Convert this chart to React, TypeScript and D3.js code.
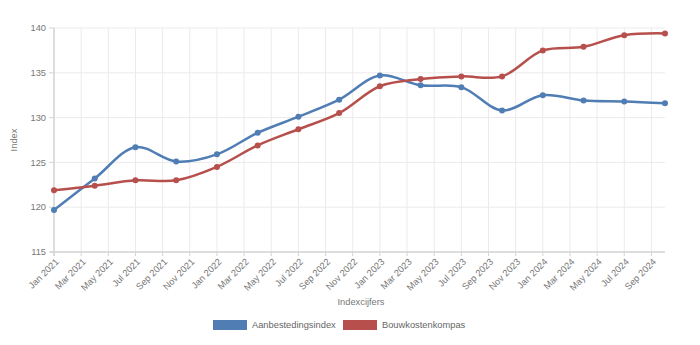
import React from "react";
import * as d3 from "d3";

const monthNames = ["Jan", "Feb", "Mar", "Apr", "May", "Jun", "Jul", "Aug", "Sep", "Oct", "Nov", "Dec"];
// month index (0 = Jan 2021) for each quarterly observation
const pointMonths = [0, 3, 6, 9, 12, 15, 18, 21, 24, 27, 30, 33, 36, 39, 42, 45];
const aanbestedingsindex = [119.7, 123.2, 126.7, 125.1, 125.9, 128.3, 130.1, 132.0, 134.7, 133.6, 133.4, 130.8, 132.5, 131.9, 131.8, 131.6];
const bouwkostenkompas = [121.9, 122.4, 123.0, 123.0, 124.5, 126.9, 128.7, 130.5, 133.5, 134.3, 134.6, 134.6, 137.5, 137.9, 139.2, 139.4];
const xTickMonths = d3.range(0, 45, 2);
const yTicks = [115, 120, 125, 130, 135, 140];
const seriesNames = ["Aanbestedingsindex", "Bouwkostenkompas"];
const seriesColors = ["#4f7db4", "#b74f4d"];

const W = 700, H = 345;
const left = 54, right = 665, top = 28, bottom = 252;

export default function App() {
  const x = d3.scaleLinear().domain([0, 45]).range([left, right]);
  const y = d3.scaleLinear().domain([115, 140]).range([bottom, top]);
  const line = d3
    .line<[number, number]>()
    .x((d) => x(d[0]))
    .y((d) => y(d[1]))
    .curve(d3.curveCatmullRom.alpha(0.5));
  const all = [aanbestedingsindex, bouwkostenkompas];
  const font = "'Liberation Sans', Arial, sans-serif";
  const fs = 9.3;
  const label = (m: number) => `${monthNames[m % 12]} ${2021 + Math.floor(m / 12)}`;
  return (
    <svg width={W} height={H} style={{ position: "absolute", left: 0, top: 0, fontFamily: font }}>
      <rect width={W} height={H} fill="#fff" />
      {xTickMonths.map((m) => (
        <line key={"vx" + m} x1={x(m)} x2={x(m)} y1={top} y2={bottom} stroke="#ebebeb" />
      ))}
      {yTicks.map((t) => (
        <line key={"hy" + t} x1={left} x2={right} y1={y(t)} y2={y(t)} stroke="#ebebeb" />
      ))}
      <line x1={left} x2={left} y1={top} y2={bottom + 4} stroke="#d4d4d4" strokeWidth={1.5} />
      <line x1={left - 4} x2={right} y1={bottom} y2={bottom} stroke="#d4d4d4" strokeWidth={1.5} />
      {yTicks.map((t) => (
        <g key={"yt" + t}>
          <line x1={left - 5} x2={left} y1={y(t)} y2={y(t)} stroke="#d4d4d4" />
          <text x={left - 8} y={y(t)} dy="0.35em" textAnchor="end" fontSize={fs} fill="#777">
            {t}
          </text>
        </g>
      ))}
      {xTickMonths.map((m) => (
        <g key={"xt" + m}>
          <line x1={x(m)} x2={x(m)} y1={bottom} y2={bottom + 4} stroke="#d4d4d4" />
          <text
            transform={`translate(${x(m) + 3},${bottom + 8}) rotate(-45)`}
            textAnchor="end"
            fontSize={fs}
            fill="#777"
            dy="0.35em"
          >
            {label(m)}
          </text>
        </g>
      ))}
      <text x={361} y={305} textAnchor="middle" fontSize={fs} fill="#777">
        Indexcijfers
      </text>
      <text transform={`translate(17,${(top + bottom) / 2}) rotate(-90)`} textAnchor="middle" fontSize={fs} fill="#777">
        Index
      </text>
      {all.map((vals, i) => {
        const pts = pointMonths.map((m, j) => [m, vals[j]] as [number, number]);
        return (
          <g key={"s" + i}>
            <path d={line(pts) || ""} fill="none" stroke={seriesColors[i]} strokeWidth={2.5} />
            {pts.map((p, j) => (
              <circle key={j} cx={x(p[0])} cy={y(p[1])} r={3} fill={seriesColors[i]} />
            ))}
          </g>
        );
      })}
      {seriesNames.map((n, i) => {
        const lx = i === 0 ? 213 : 343;
        return (
          <g key={"l" + i}>
            <rect x={lx} y={320} width={34} height={10} fill={seriesColors[i]} />
            <text x={lx + 39} y={325} dy="0.35em" fontSize={fs} fill="#666">
              {n}
            </text>
          </g>
        );
      })}
    </svg>
  );
}
